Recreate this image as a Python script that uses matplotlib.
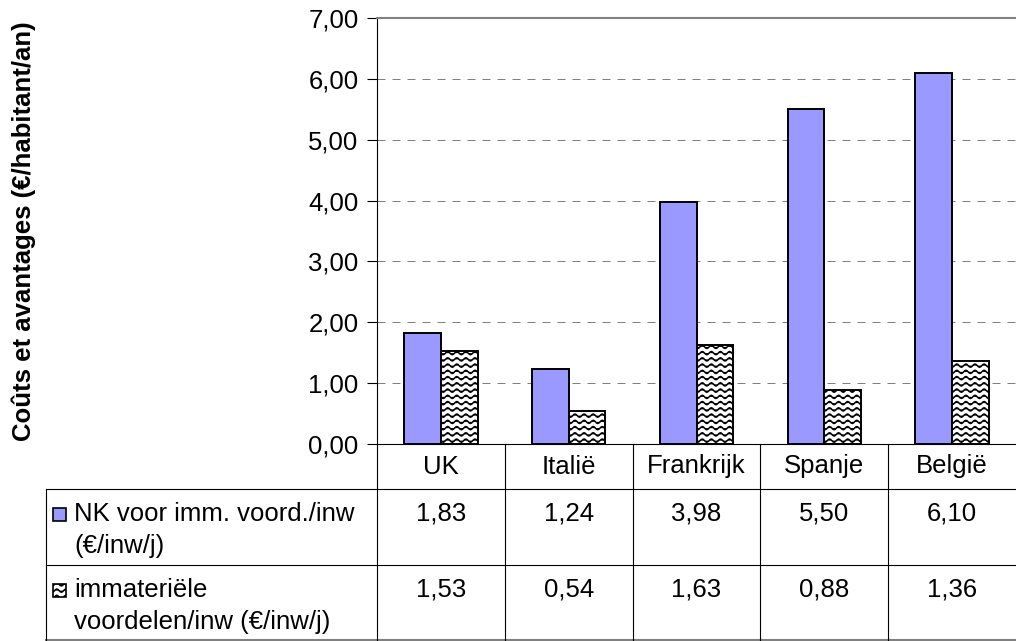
import warnings
import numpy as np
import matplotlib
matplotlib.use("Agg")
import matplotlib.pyplot as plt
import matplotlib.hatch as mhatch
from matplotlib.path import Path
from matplotlib.patches import Rectangle
from matplotlib.lines import Line2D
from matplotlib.ticker import FuncFormatter, MultipleLocator
from matplotlib.transforms import blended_transform_factory

warnings.filterwarnings("ignore")

# ---- data -------------------------------------------------------------
countries = ["UK", "Italië", "Frankrijk", "Spanje", "België"]
costs = [1.83, 1.24, 3.98, 5.50, 6.10]          # NK voor imm. voord./inw
benefits = [1.53, 0.54, 1.63, 0.88, 1.36]       # immateriële voordelen/inw
series_names = ["NK voor imm. voord./inw\n(€/inw/j)",
                "immateriële\nvoordelen/inw (€/inw/j)"]
y_label = "Coûts et avantages (€/habitant/an)"
y_max = 7


# ---- wavy hatch pattern ('~') -------------------------------------------
class WaveHatch(mhatch.HatchPatternBase):
    def __init__(self, hatch, density):
        self.num_rows = hatch.count("~") * 8
        self.periods = 11
        self.steps = self.periods * 8
        self.num_vertices = self.num_rows * (self.steps + 1)

    def set_vertices_and_codes(self, vertices, codes):
        if self.num_rows == 0:
            return
        xs = np.linspace(0.0, 1.0, self.steps + 1)
        amp = 0.016
        n = self.steps + 1
        for i in range(self.num_rows):
            y0 = (i + 0.5) / self.num_rows
            ys = y0 + amp * np.sin(2 * np.pi * self.periods * xs)
            vertices[i * n:(i + 1) * n, 0] = xs
            vertices[i * n:(i + 1) * n, 1] = ys
            codes[i * n] = Path.MOVETO
            codes[i * n + 1:(i + 1) * n] = Path.LINETO


mhatch._hatch_types.append(WaveHatch)

plt.rcParams["font.family"] = ["Liberation Sans", "DejaVu Sans"]
plt.rcParams["hatch.linewidth"] = 1.1

W, H, DPI = 1016, 641, 100
fig = plt.figure(figsize=(W / DPI, H / DPI), dpi=DPI)
fig.patch.set_facecolor("white")

# plot area in pixels
left, right, top, bottom = 377, 1016, 18, 444
ax = fig.add_axes([left / W, 1 - bottom / H, (right - left) / W, (bottom - top) / H])

FS = 18.5
blue = "#9999FF"
x = np.arange(len(countries))
bw = 0.2875

ax.bar(x - bw / 2, costs, bw, color=blue, edgecolor="black", linewidth=1.4, zorder=3)
ax.bar(x + bw / 2, benefits, bw, color="white", edgecolor="black", linewidth=1.4,
       hatch="~~", zorder=3)

ax.set_xlim(-0.5, len(countries) - 0.5)
ax.set_ylim(0, y_max)
ax.yaxis.set_major_locator(MultipleLocator(1))
ax.yaxis.set_major_formatter(FuncFormatter(lambda v, p: f"{v:.2f}".replace(".", ",")))
ax.tick_params(axis="y", direction="out", length=7.2, width=0.8, pad=6,
               labelsize=FS, colors="black")
ax.set_xticks([])
ax.grid(axis="y", color="#808080", linewidth=0.72, linestyle=(0, (8, 7)), zorder=1)
ax.spines["right"].set_visible(False)
ax.spines["top"].set_color("#808080")
ax.spines["top"].set_linewidth(1.5)
ax.spines["left"].set_color("black")
ax.spines["left"].set_linewidth(0.8)
ax.spines["bottom"].set_color("black")
ax.spines["bottom"].set_linewidth(0.8)

fig.text(24 / W, 1 - (top + bottom) / 2 / H, y_label, rotation=90, ha="center",
         va="center", fontsize=FS, fontweight="bold")

# ---- data table under the axis ---------------------------------------
tr = blended_transform_factory(ax.transData, fig.transFigure)


def fy(py):
    return 1 - py / H


tbl_left = 46
row_top = [bottom, 489, 565]
row_bot = 640
line_kw = dict(color="black", linewidth=0.8)

# horizontal rules
for yy in row_top[1:]:
    fig.add_artist(Line2D([tbl_left / W, 1], [fy(yy), fy(yy)],
                          transform=fig.transFigure, **line_kw))
fig.add_artist(Line2D([tbl_left / W, 1], [fy(row_bot), fy(row_bot)],
                      transform=fig.transFigure, color="#808080", linewidth=1.5))
# vertical rules
fig.add_artist(Line2D([tbl_left / W, tbl_left / W], [fy(row_top[1]), fy(row_bot)],
                      transform=fig.transFigure, **line_kw))
for b in np.arange(len(countries)) - 0.5:
    fig.add_artist(Line2D([b, b], [fy(bottom), fy(row_bot)], transform=tr,
                          clip_on=False, **line_kw))

# header row
for i, name in enumerate(countries):
    fig.text(i, fy((row_top[0] + row_top[1]) / 2), name, transform=tr,
             ha="center", va="center", fontsize=FS)

# value rows
line_h = 32
for r, vals in enumerate([costs, benefits]):
    y_first = row_top[r + 1] + 25
    for i, v in enumerate(vals):
        fig.text(i, fy(y_first), f"{v:.2f}".replace(".", ","), transform=tr,
                 ha="center", va="center", fontsize=FS)
    for k, line in enumerate(series_names[r].split("\n")):
        fig.text(74 / W, fy(y_first + k * line_h), line, ha="left", va="center",
                 fontsize=FS)

# legend keys inside the table
key = 13
for r, (fc, hp) in enumerate([(blue, None), ("white", "~~")]):
    yc = row_top[r + 1] + 25
    fig.add_artist(Rectangle((53 / W, fy(yc + key / 2)), key / W, key / H,
                             transform=fig.transFigure, facecolor=fc,
                             edgecolor="black", linewidth=1.2, hatch=hp))

fig.savefig("out.png", dpi=DPI, facecolor="white")
